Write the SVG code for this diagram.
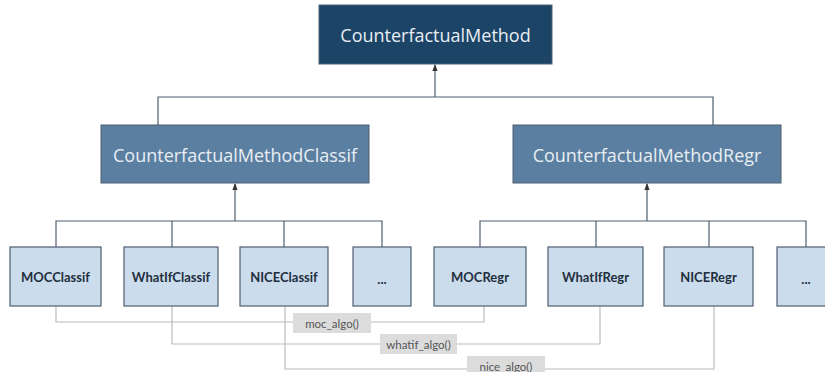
<svg xmlns="http://www.w3.org/2000/svg" width="825" height="372" viewBox="0 0 825 372">
<defs>
<style>
.top{fill:#1b4466;stroke:#4e6378;stroke-width:1}
.mid{fill:#5b7fa0;stroke:#4e5e70;stroke-width:1}
.leaf{fill:#cbdcec;stroke:#4e5e70;stroke-width:1.2}
.t1{font-family:"Open Sans","Lato",sans-serif;fill:#e8eef4;text-anchor:middle;dominant-baseline:central}
.t2{font-family:"Lato","Open Sans",sans-serif;font-weight:bold;font-size:13px;fill:#1f2f40;text-anchor:middle;dominant-baseline:central}
.tree{fill:none;stroke:#4e5e70;stroke-width:1.2}
.assoc{fill:none;stroke:#bcbcbc;stroke-width:1.2}
.lbl{fill:#dcdcdc}
.lt{font-family:"Lato","Open Sans",sans-serif;font-size:11.5px;fill:#555;text-anchor:middle;dominant-baseline:central}
</style>
<marker id="ah" viewBox="0 0 8 8" refX="7" refY="4" markerWidth="6" markerHeight="6" orient="auto">
<path d="M0,1 L8,4 L0,7 z" fill="#333"/>
</marker>
</defs>
<rect width="825" height="372" fill="#ffffff"/>
<g id="connectors">
<path class="tree" d="M158,125 V97 H713 V125"/>
<path class="tree" d="M435,97 V65" marker-end="url(#ah)"/>
<path class="tree" d="M56,247 V221 H382 V247 M172,221 V247 M284,221 V247"/>
<path class="tree" d="M235,221 V184" marker-end="url(#ah)"/>
<path class="tree" d="M480,247 V221 H806 V247 M596,221 V247 M709,221 V247"/>
<path class="tree" d="M647,221 V184" marker-end="url(#ah)"/>
<path class="assoc" d="M56,306 V322 H484 V306"/>
<path class="assoc" d="M172,306 V344 H600 V306"/>
<path class="assoc" d="M285,306 V369 H714 V306"/>
<rect class="lbl" x="293" y="313" width="78" height="20"/>
<text class="lt" x="332" y="323.5">moc_algo()</text>
<rect class="lbl" x="380" y="334" width="77" height="20"/>
<text class="lt" x="418.5" y="344.5">whatif_algo()</text>
<rect class="lbl" x="467" y="356" width="78" height="20"/>
<text class="lt" x="506" y="366">nice_algo()</text>
</g>
<g id="CounterfactualMethod">
<rect class="top" x="319" y="5" width="233" height="59"/>
<text class="t1" x="435.5" y="35" font-size="18">CounterfactualMethod</text>
</g>
<g id="CounterfactualMethodClassif">
<rect class="mid" x="101" y="125" width="268" height="58"/>
<text class="t1" x="235" y="155" font-size="18">CounterfactualMethodClassif</text>
</g>
<g id="CounterfactualMethodRegr">
<rect class="mid" x="513" y="125" width="268" height="58"/>
<text class="t1" x="647" y="155" font-size="18">CounterfactualMethodRegr</text>
</g>
<g id="MOCClassif"><rect class="leaf" x="10" y="247" width="91" height="59"/><text class="t2" x="55.5" y="277">MOCClassif</text></g>
<g id="WhatIfClassif"><rect class="leaf" x="124" y="247" width="94" height="59"/><text class="t2" x="171" y="277">WhatIfClassif</text></g>
<g id="NICEClassif"><rect class="leaf" x="240" y="247" width="88" height="59"/><text class="t2" x="284" y="277">NICEClassif</text></g>
<g id="EtcClassif"><rect class="leaf" x="353" y="247" width="58" height="59"/><text class="t2" x="382" y="279">...</text></g>
<g id="MOCRegr"><rect class="leaf" x="434" y="247" width="92" height="59"/><text class="t2" x="480" y="277">MOCRegr</text></g>
<g id="WhatIfRegr"><rect class="leaf" x="548" y="247" width="95" height="59"/><text class="t2" x="595.5" y="277">WhatIfRegr</text></g>
<g id="NICERegr"><rect class="leaf" x="664" y="247" width="89" height="59"/><text class="t2" x="708.5" y="277">NICERegr</text></g>
<g id="EtcRegr"><rect class="leaf" x="777" y="247" width="58" height="59"/><text class="t2" x="806" y="279">...</text></g>
</svg>
